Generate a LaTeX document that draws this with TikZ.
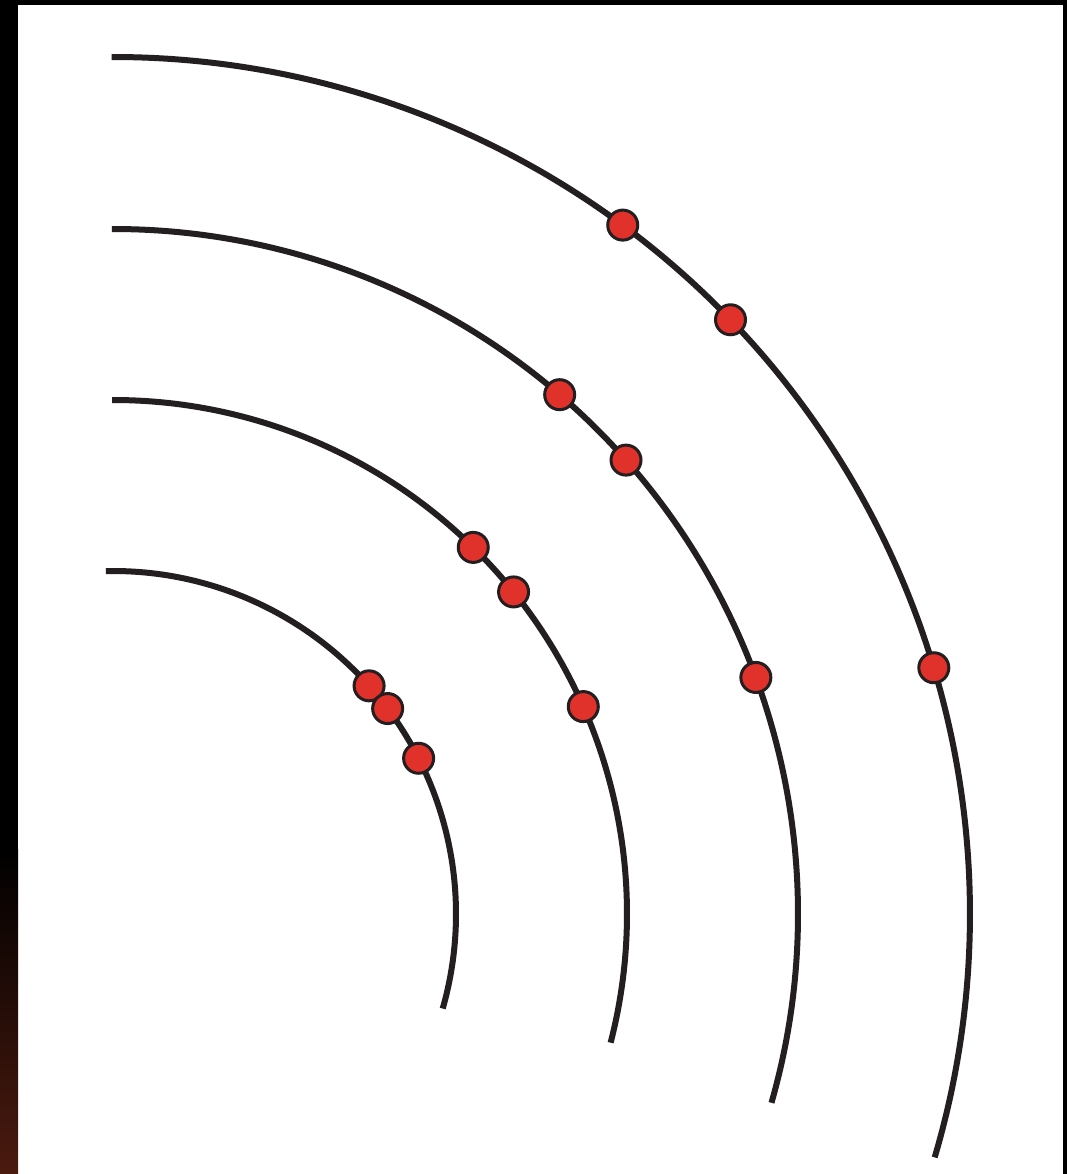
\documentclass[tikz,border=0pt]{standalone}
\usetikzlibrary{calc}
\definecolor{arcc}{HTML}{231F20}
\definecolor{dotred}{HTML}{E1312B}
\definecolor{brown1}{RGB}{75,26,15}
\tikzset{
  arcline/.style={draw=arcc, line width=6pt},
  dot/.style={circle, fill=dotred, draw=arcc, line width=3pt, minimum size=30pt, inner sep=0pt}
}
\begin{document}
\begin{tikzpicture}[x=1pt,y=1pt]
\useasboundingbox (0,0) rectangle (1067,1174);
\fill[white] (0,0) rectangle (1067,1174);
% frame
\fill[black] (0,1169) rectangle (1067,1174);
\fill[black] (1063,0) rectangle (1067,1174);
\fill[black] (0,324) rectangle (18,1174);
\shade[top color=black, bottom color=brown1] (0,0) rectangle (18,324.5);
\coordinate (c) at (113,260);
% arcs
\draw[arcline] ([shift={(91.2:343)}]c) arc[start angle=91.2, end angle=-16, radius=343];
\draw[arcline] ([shift={(90.1:514)}]c) arc[start angle=90.1, end angle=-14.5, radius=514];
\draw[arcline] ([shift={(90.1:685)}]c) arc[start angle=90.1, end angle=-16, radius=685];
\draw[arcline] ([shift={(90.1:857)}]c) arc[start angle=90.1, end angle=-16.5, radius=857];
% dots, outer arc
\node[dot] (a1) at ([shift={(53.5:857)}]c) {};
\node[dot] (a2) at ([shift={(43.9:857)}]c) {};
\node[dot] (a3) at ([shift={(16.7:857)}]c) {};
% second arc
\node[dot] (b1) at ([shift={(49.3:685)}]c) {};
\node[dot] (b2) at ([shift={(41.5:685)}]c) {};
\node[dot] (b3) at ([shift={(20.2:685)}]c) {};
% third arc
\node[dot] (c1) at ([shift={(45.5:514)}]c) {};
\node[dot] (c2) at ([shift={(38.8:514)}]c) {};
\node[dot] (c3) at ([shift={(23.8:514)}]c) {};
% inner arc
\node[dot] (d1) at ([shift={(41.7:343)}]c) {};
\node[dot] (d2) at ([shift={(36.8:343)}]c) {};
\node[dot] (d3) at ([shift={(27:343)}]c) {};
\end{tikzpicture}
\end{document}
